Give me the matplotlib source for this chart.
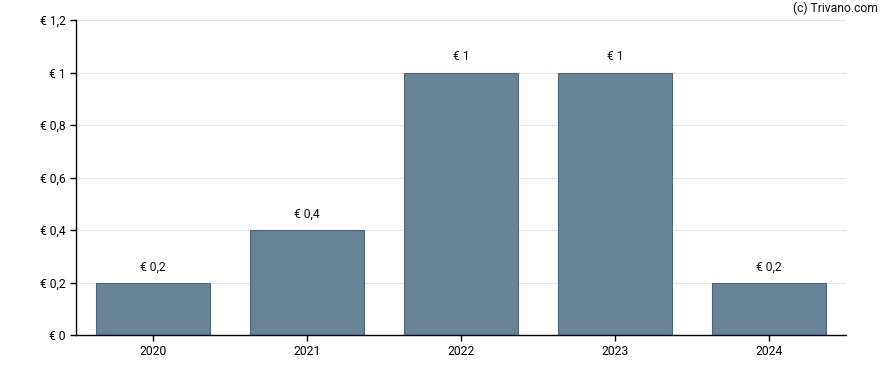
import numpy as np
import matplotlib.pyplot as plt

years = ['2020', '2021', '2022', '2023', '2024']
dividends = [0.2, 0.4, 1.0, 1.0, 0.2]
bar_labels = ['€ 0,2', '€ 0,4', '€ 1', '€ 1', '€ 0,2']
yticks = [0, 0.2, 0.4, 0.6, 0.8, 1.0, 1.2]
ytick_labels = ['€ 0', '€ 0,2', '€ 0,4', '€ 0,6', '€ 0,8', '€ 1', '€ 1,2']

plt.rcParams['font.family'] = ['Roboto', 'DejaVu Sans']

fig = plt.figure(figsize=(8.88, 3.70), dpi=100)
ax = fig.add_axes([76 / 888, 35 / 370, 770 / 888, 315 / 370])

x = np.arange(len(years))
ax.bar(x, dividends, width=0.745, color='#678395', edgecolor='#4d6575', linewidth=0.8, zorder=2)

for xi, v, lab in zip(x, dividends, bar_labels):
    ax.text(xi, v + 0.035, lab, ha='center', va='bottom', fontsize=8.7, color='#111111')

ax.set_xlim(-0.5, 4.5)
ax.set_ylim(0, 1.2)
ax.set_xticks(x)
ax.set_xticklabels(years)
ax.set_yticks(yticks)
ax.set_yticklabels(ytick_labels)
ax.tick_params(labelsize=8.7, length=4, width=1, colors='black')
ax.yaxis.grid(True, color='#e6e6e6', linewidth=0.8, zorder=0)
ax.set_axisbelow(True)

for s in ['top', 'right']:
    ax.spines[s].set_visible(False)
for s in ['left', 'bottom']:
    ax.spines[s].set_linewidth(1)

fig.text(878 / 888, 1 - 8 / 370, '(c) Trivano.com', ha='right', va='center', fontsize=8.7, color='#111111')

fig.savefig('out.png', dpi=100)
